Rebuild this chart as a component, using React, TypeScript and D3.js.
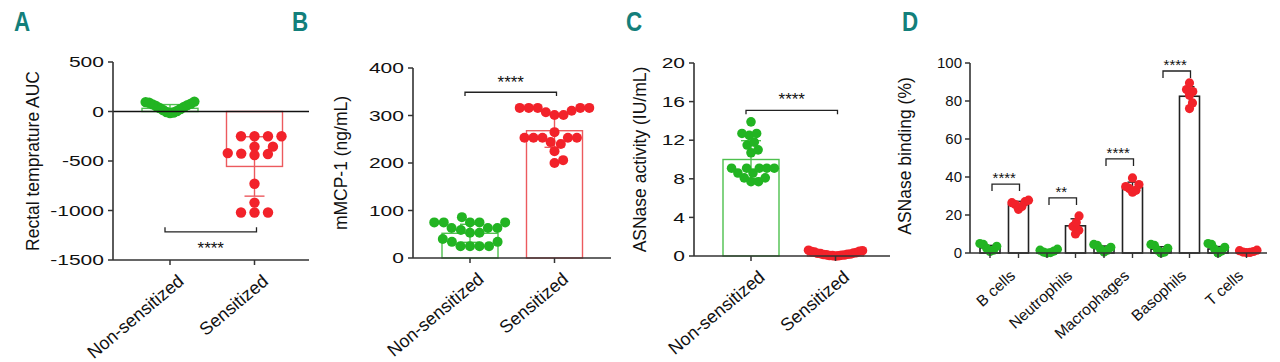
import React from 'react';
import * as d3 from 'd3';

// ---- data ----
const groups = ['Non-sensitized', 'Sensitized'];

// A: rectal temperature AUC
const aucNonSens = [100, 95, 88, 80, 72, 64, 55, 45, 35, 25, 15, 5, -5, -10, -15];
const aucSens = [-250, -250, -250, -250, -355, -355, -420, -425, -430, -440, -730, -920, -1020, -1020, -1020];
const aucMean = [32, -555];
const aucSD = [38, 300];
const aucTicks = [-1500, -1000, -500, 0, 500];

// B: mMCP-1
const mcpNonSens = [86, 75, 75, 75, 75, 75, 63, 63, 63, 59, 53, 53, 40, 34, 34, 25, 25, 25, 25];
const mcpSens = [316, 316, 316, 316, 316, 310, 307, 301, 301, 265, 253, 253, 253, 253, 253, 244, 240, 225, 206, 200];
const mcpMean = [52, 268];
const mcpSD = [19, 35];
const mcpTicks = [0, 100, 200, 300, 400];

// C: ASNase activity
const actNonSens = [13.9, 12.7, 12.7, 12.5, 11.8, 11.5, 11.0, 10.7, 9.1, 9.1, 9.1, 9.1, 9.1, 8.6, 8.6, 8.1, 8.1, 7.7, 7.7];
const actSens = [0.6, 0.55, 0.5, 0.45, 0.4, 0.35, 0.3, 0.28, 0.25, 0.2, 0.18, 0.15, 0.12, 0.1, 0.08, 0.05, 0.04, 0.02, 0.0];
const actMean = [10.0, 0.2];
const actSD = [1.95, 0.15];
const actTicks = [0, 4, 8, 12, 16, 20];

// D: ASNase binding per cell type
const cellTypes = ['B cells', 'Neutrophils', 'Macrophages', 'Basophils', 'T cells'];
const bindNonSensMean = [2.8, 0.8, 2.7, 2.0, 2.1];
const bindNonSensSD = [1.2, 0.6, 1.0, 1.3, 1.3];
const bindSensMean = [25.5, 14.3, 34.5, 82.5, 0.6];
const bindSensSD = [1.7, 3.7, 2.8, 5.0, 0.4];
const bindNonSensPts = [
  [5, 4.5, 3.5, 2.5, 1.5, 0.8],
  [2, 1.5, 1, 0.5, 0.2, 0],
  [4.5, 4, 3, 2, 1.5, 0.5],
  [4.5, 4, 2.5, 1.5, 0.5, 0],
  [5, 4.5, 3, 2, 1, 0]
];
const bindSensPts = [
  [27.8, 27, 26.5, 25.5, 24.5, 23],
  [19.5, 16, 14, 12, 10],
  [39.5, 36, 35, 34, 33, 32],
  [89.5, 86, 85, 83, 79, 76],
  [1.5, 1.2, 0.8, 0.5, 0.3, 0.2]
];
const bindTicks = [0, 20, 40, 60, 80, 100];
const bindSig = ['****', '**', '****', '****'];
const bindSigLevel = [36.3, 29, 49.5, 95.8];

// ---- styles ----
const GREEN_DOT = '#22b422';
const GREEN_LINE = '#4ec04e';
const RED_DOT = '#f2222a';
const RED_LINE = '#ec5a5e';
const AXIS = '#333';
const TEAL = '#137f7b';
const FONT = 'Liberation Sans, Arial, sans-serif';

// simple beeswarm, like the GraphPad column scatter
function swarm(values: number[], y: (v: number) => number, sx: number, sy: number) {
  const pts = values.map((v) => y(v)).sort((a, b) => b - a);
  const placed: { x: number; y: number }[] = [];
  pts.forEach((py) => {
    const cands = [0];
    placed.forEach((q) => {
      const dy = (py - q.y) / sy;
      if (Math.abs(dy) < 1) {
        const dx = sx * Math.sqrt(1 - dy * dy);
        cands.push(q.x + dx, q.x - dx);
      }
    });
    cands.sort((a, b) => Math.abs(a) - Math.abs(b));
    const ok = cands.find((c) =>
      placed.every((q) => ((c - q.x) / sx) ** 2 + ((py - q.y) / sy) ** 2 >= 0.999)
    );
    placed.push({ x: ok ?? 0, y: py });
  });
  return placed;
}

const Letter = ({ x, ch }: { x: number; ch: string }) => (
  <text transform={`translate(${x},31) scale(0.8,1)`} fill={TEAL}
    fontFamily="Liberation Sans Narrow, Arial Narrow, Liberation Sans, sans-serif"
    fontWeight="bold" fontSize={28}>{ch}</text>
);

interface PanelProps {
  letter: string;
  letterX: number;
  axisX: number;
  axisEnd: number;
  yTop: number;
  yBottom: number;
  domain: [number, number];
  ticks: number[];
  title: string;
  titleX: number;
  means: number[];
  sds: number[];
  points: number[][];
  swarmX: number[];
  swarmY: number[];
  r: number;
  sig: { level: number; drop: number; text: number };
  zeroLine?: boolean;
}

const TwoGroupPanel = (p: PanelProps) => {
  const y = d3.scaleLinear().domain(p.domain).range([p.yBottom, p.yTop]);
  const x = d3.scalePoint<string>().domain(groups).range([p.axisX + 57, p.axisX + 141.5]);
  const base = p.zeroLine ? y(0) : p.yBottom;
  const lines = [GREEN_LINE, RED_LINE];
  const dots = [GREEN_DOT, RED_DOT];
  const barW = 56;
  const sigY = y(p.sig.level);
  const sigDrop = y(p.sig.level + p.sig.drop) - sigY;
  const x0 = x(groups[0])! - 5;
  const x1 = x(groups[1])! + 2;
  return (
    <g>
      <Letter x={p.letterX} ch={p.letter} />
      {/* y title */}
      <text transform={`translate(${p.titleX},${(p.yTop + p.yBottom) / 2}) rotate(-90)`}
        textAnchor="middle" fontFamily={FONT} fontSize={17.5} fill="#111">{p.title}</text>
      {/* bars and error bars */}
      {groups.map((g, i) => {
        const cx = x(g)!;
        const m = y(p.means[i]);
        const hi = y(p.means[i] + p.sds[i]);
        const lo = y(p.means[i] - p.sds[i]);
        return (
          <g key={g} stroke={lines[i]} strokeWidth={1.4} fill="none">
            <rect x={cx - barW / 2} y={Math.min(m, base)} width={barW} height={Math.abs(base - m)} />
            <line x1={cx} x2={cx} y1={hi} y2={lo} />
            <line x1={cx - 10} x2={cx + 10} y1={hi} y2={hi} />
            <line x1={cx - 10} x2={cx + 10} y1={lo} y2={lo} />
          </g>
        );
      })}
      {/* dots */}
      {groups.map((g, i) =>
        swarm(p.points[i], y, p.swarmX[i], p.swarmY[i]).map((d, j) => (
          <circle key={g + j} cx={x(g)! + d.x} cy={d.y} r={p.r} fill={dots[i]} />
        ))
      )}
      {/* axes */}
      {p.zeroLine && <line x1={p.axisX} x2={p.axisEnd} y1={y(0)} y2={y(0)} stroke="#111" strokeWidth={1.5} />}
      <line x1={p.axisX} x2={p.axisX} y1={p.yTop} y2={p.yBottom} stroke={AXIS} strokeWidth={1.6} />
      <line x1={p.axisX} x2={p.axisEnd} y1={p.yBottom} y2={p.yBottom} stroke={AXIS} strokeWidth={1.6} />
      {p.ticks.map((t) => (
        <g key={t}>
          <line x1={p.axisX - 5} x2={p.axisX} y1={y(t)} y2={y(t)} stroke={AXIS} strokeWidth={1.5} />
          <text transform={`translate(${p.axisX - 9},${y(t)}) scale(1.45,1)`} dy="0.36em" textAnchor="end"
            fontFamily={FONT} fontSize={14.5} fill="#111">{t}</text>
        </g>
      ))}
      {groups.map((g) => (
        <g key={g}>
          <line x1={x(g)} x2={x(g)} y1={p.yBottom} y2={p.yBottom + 5} stroke={AXIS} strokeWidth={1.5} />
          <text transform={`translate(${x(g)! + 15},${p.yBottom + 23}) rotate(-40)`} textAnchor="end"
            fontFamily={FONT} fontSize={18} fill="#111">{g}</text>
        </g>
      ))}
      {/* significance */}
      <path d={`M${x0},${sigY + sigDrop}V${sigY}H${x1}V${sigY + sigDrop}`} fill="none" stroke="#222" strokeWidth={1.3} />
      <text x={(x0 + x1) / 2} y={y(p.sig.text)} textAnchor="middle" fontFamily={FONT} fontSize={17} fill="#111">****</text>
    </g>
  );
};

const BindingPanel = () => {
  const y = d3.scaleLinear().domain([0, 100]).range([253, 63]);
  const slots = cellTypes.flatMap((c) => [c + '-ns', c + '-s']);
  const x = d3.scalePoint<string>().domain(slots).range([990, 1246.5]);
  const barW = 20;
  return (
    <g>
      <Letter x={902} ch="D" />
      <text transform="translate(911,156) rotate(-90)" textAnchor="middle" fontFamily={FONT}
        fontSize={17.5} fill="#111">ASNase binding (%)</text>
      {cellTypes.map((c, i) => {
        const series = [
          { key: c + '-ns', mean: bindNonSensMean[i], sd: bindNonSensSD[i], pts: bindNonSensPts[i], col: GREEN_DOT },
          { key: c + '-s', mean: bindSensMean[i], sd: bindSensSD[i], pts: bindSensPts[i], col: RED_DOT }
        ];
        const gx = (x(c + '-ns')! + x(c + '-s')!) / 2;
        return (
          <g key={c}>
            {series.map((s) => {
              const cx = x(s.key)!;
              const m = y(s.mean);
              return (
                <g key={s.key}>
                  <rect x={cx - barW / 2} y={m} width={barW} height={y(0) - m} fill="none" stroke="#222" strokeWidth={1.6} />
                  <g stroke="#222" strokeWidth={1.4}>
                    <line x1={cx} x2={cx} y1={y(s.mean + s.sd)} y2={y(s.mean - s.sd)} />
                    <line x1={cx - 5} x2={cx + 5} y1={y(s.mean + s.sd)} y2={y(s.mean + s.sd)} />
                  </g>
                  {swarm(s.pts, y, 3.5, 11).map((d, j) => (
                    <circle key={j} cx={cx + d.x} cy={d.y} r={4.6} fill={s.col} />
                  ))}
                </g>
              );
            })}
            <line x1={x(c + '-ns')} x2={x(c + '-ns')} y1={253} y2={258} stroke={AXIS} strokeWidth={1.4} />
            <line x1={x(c + '-s')} x2={x(c + '-s')} y1={253} y2={258} stroke={AXIS} strokeWidth={1.4} />
            <text transform={`translate(${gx + 12},${277}) rotate(-42)`} textAnchor="end"
              fontFamily={FONT} fontSize={15.5} fill="#111">{c}</text>
            {i < bindSig.length && (
              <g>
                <path d={`M${x(c + '-ns')! + 2},${y(bindSigLevel[i]) + 7}V${y(bindSigLevel[i])}H${x(c + '-s')! + 1}V${y(bindSigLevel[i]) + 7}`}
                  fill="none" stroke="#222" strokeWidth={1.3} />
                <text x={gx} y={y(bindSigLevel[i]) - 1} textAnchor="middle" fontFamily={FONT} fontSize={15} fill="#111">{bindSig[i]}</text>
              </g>
            )}
          </g>
        );
      })}
      <line x1={970} x2={970} y1={63} y2={253} stroke={AXIS} strokeWidth={1.6} />
      <line x1={970} x2={1267} y1={253} y2={253} stroke={AXIS} strokeWidth={1.6} />
      {bindTicks.map((t) => (
        <g key={t}>
          <line x1={965} x2={970} y1={y(t)} y2={y(t)} stroke={AXIS} strokeWidth={1.5} />
          <text x={962} y={y(t)} dy="0.36em" textAnchor="end" fontFamily={FONT} fontSize={15} fill="#111">{t}</text>
        </g>
      ))}
    </g>
  );
};

export default function App() {
  return (
    <svg width={1280} height={362} style={{ position: 'absolute', left: 0, top: 0, background: '#fff' }}>
      <TwoGroupPanel letter="A" letterX={14} axisX={113} axisEnd={309} yTop={62} yBottom={260}
        domain={[-1500, 500]} ticks={aucTicks} title="Rectal temprature AUC" titleX={38.5}
        means={aucMean} sds={aucSD} points={[aucNonSens, aucSens]} swarmX={[3.5, 13.5]} swarmY={[16, 8]} r={5.2}
        sig={{ level: -1215, drop: 45, text: -1435 }} zeroLine />
      <TwoGroupPanel letter="B" letterX={292} axisX={413} axisEnd={611} yTop={68} yBottom={258}
        domain={[0, 400]} ticks={mcpTicks} title="mMCP-1 (ng/mL)" titleX={347}
        means={mcpMean} sds={mcpSD} points={[mcpNonSens, mcpSens]} swarmX={[9.5, 9]} swarmY={[10, 10]} r={5}
        sig={{ level: 349, drop: -8, text: 358 }} />
      <TwoGroupPanel letter="C" letterX={626} axisX={694} axisEnd={890} yTop={63} yBottom={256}
        domain={[0, 20]} ticks={actTicks} title="ASNase activity (IU/mL)" titleX={646}
        means={actMean} sds={actSD} points={[actNonSens, actSens]} swarmX={[7.5, 3]} swarmY={[9, 14]} r={4.8}
        sig={{ level: 15.1, drop: -0.4, text: 15.6 }} />
      <BindingPanel />
    </svg>
  );
}
